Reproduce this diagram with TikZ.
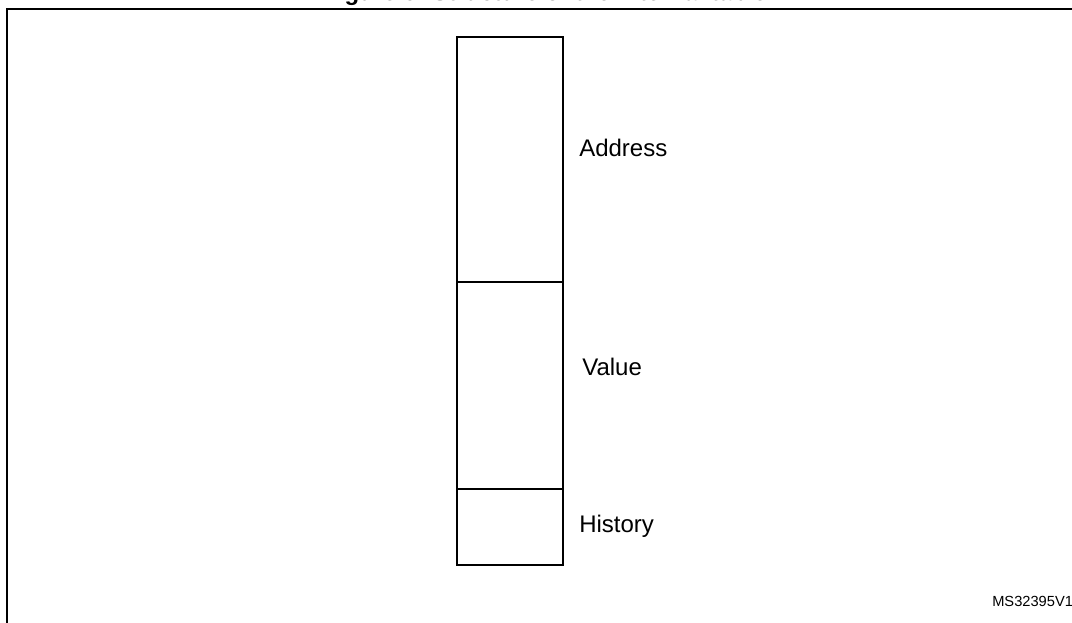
\documentclass[tikz,border=0pt]{standalone}
\usepackage{fontspec}
\setmainfont{Liberation Sans}
\begin{document}
\begin{tikzpicture}[x=0.75pt,y=-0.75pt,
  cell/.style={draw=black,line width=1.3pt,fill=white},
  lbl/.style={anchor=base west,inner sep=0pt,font=\fontsize{18}{20}\selectfont},
  frame/.style={draw=black,line width=1.6pt}]
\useasboundingbox (0,0) rectangle (1072,623);
\clip (0,0) rectangle (1072,623);
\fill[white] (0,0) rectangle (1072,623);
\node[anchor=base,inner sep=0pt,font=\bfseries\fontsize{18}{20}\selectfont] (title) at (545,1) {Figure 6. Structure of the internal table};
\draw[frame] (1090,9) -- (7,9) -- (7,640);
\draw[cell] (457,37) rectangle (563,282);
\draw[cell] (457,282) rectangle (563,489);
\draw[cell] (457,489) rectangle (563,565);
\node[lbl] (addr) at (579,157) {Address};
\node[lbl] (val) at (582,376) {Value};
\node[lbl] (hist) at (579,533) {History};
\node[anchor=base west,inner sep=0pt,font=\fontsize{11}{13}\selectfont] (ms) at (992,607) {MS32395V1};
\end{tikzpicture}
\end{document}
